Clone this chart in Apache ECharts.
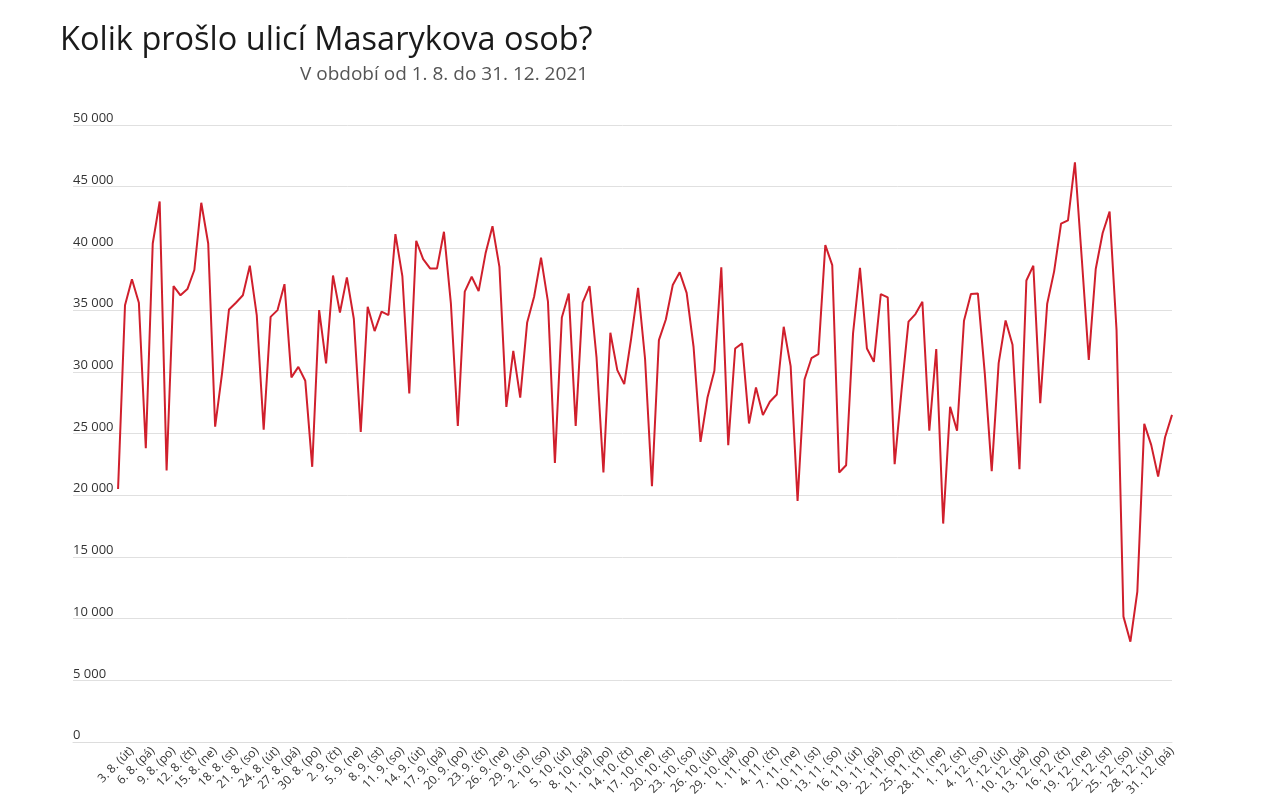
<!DOCTYPE html>
<html>
<head>
<meta charset="utf-8">
<script src="https://cdn.jsdelivr.net/npm/echarts@6/dist/echarts.min.js"></script>
<style>
html, body { margin: 0; padding: 0; background: #fff; }
#chart { width: 1265px; height: 804px; }
</style>
</head>
<body>
<div id="chart"></div>
<script>
// denni pocty chodcu, 1. 8. – 31. 12. 2021
var dny = ['ne', 'po', 'út', 'st', 'čt', 'pá', 'so'];
var osoby = [
  20500, 35400, 37500, 35600, 23800, 40400, 43800, 22000, 36950, 36200,
  36700, 38250, 43700, 40400, 25550, 29900, 35050, 35600, 36200, 38600,
  34600, 25300, 34450, 35000, 37100, 29550, 30400, 29270, 22300, 35000,
  30680, 37800, 34800, 37650, 34300, 25130, 35270, 33300, 34870, 34600,
  41160, 37760, 28240, 40620, 39130, 38380, 38380, 41350, 35540, 25620,
  36500, 37700, 36540, 39600, 41800, 38500, 27160, 31700, 27900, 34000,
  36080, 39250, 35680, 22620, 34400, 36350, 25620, 35600, 36950, 31200,
  21840, 33160, 30140, 29000, 32700, 36800, 31080, 20730, 32570, 34240,
  37030, 38060, 36400, 32030, 24320, 27890, 30080, 38460, 24050, 31890,
  32300, 25810, 28730, 26490, 27570, 28160, 33650, 30460, 19540, 29380,
  31100, 31430, 40270, 38650, 21840, 22430, 33110, 38430, 31890, 30810,
  36300, 36030, 22510, 28510, 34060, 34680, 35680, 25220, 31840, 17700,
  27160, 25220, 34140, 36300, 36350, 29870, 21950, 30700, 34160, 32190,
  22110, 37400, 38600, 27460, 35520, 38140, 42000, 42270, 46980, 39080,
  30970, 38330, 41250, 42980, 33400, 10160, 8130, 12190, 25780, 24080,
  21510, 24700, 26510
];

var dnyPopisky = [];
var d = new Date(2021, 7, 1);
for (var i = 0; i < osoby.length; i++) {
  dnyPopisky.push(d.getDate() + '. ' + (d.getMonth() + 1) + '. (' + dny[d.getDay()] + ')');
  d.setDate(d.getDate() + 1);
}
// popisek kazdy treti den od 3. 8.
var popiskyX = [];
for (var k = 2; k < osoby.length; k += 3) popiskyX.push(k);

var body = osoby.map(function (v, i) { return [i, v]; });

var chart = echarts.init(document.getElementById('chart'));
var option = {
  backgroundColor: '#fff',
  animation: false,
  title: [
    {
      text: 'Kolik prošlo ulicí Masarykova osob?',
      left: 60, top: 24, padding: 0,
      textStyle: { fontFamily: 'Open Sans', fontSize: 32.5, fontWeight: 'normal', color: '#1a1a1a' }
    },
    {
      text: 'V období od 1. 8. do 31. 12. 2021',
      left: 300, top: 65, padding: 0,
      textStyle: { fontFamily: 'Open Sans', fontSize: 19, fontWeight: 'normal', color: '#555' }
    }
  ],
  grid: { left: 73, right: 93, top: 125, bottom: 62, containLabel: false },
  xAxis: {
    type: 'value',
    min: -6.5,
    max: osoby.length - 1,
    splitLine: { show: false },
    axisLine: { show: true, onZero: false, lineStyle: { color: '#ddd' } },
    axisTick: { show: false },
    axisLabel: {
      customValues: popiskyX,
      rotate: 45,
      margin: 7,
      fontFamily: 'Open Sans',
      fontSize: 12,
      color: '#333',
      formatter: function (v) { return dnyPopisky[v] || ''; }
    }
  },
  yAxis: {
    type: 'value',
    min: 0,
    max: 50000,
    interval: 5000,
    axisLine: { show: false },
    axisTick: { show: false },
    splitLine: { lineStyle: { color: '#e0e0e0', width: 1 } },
    axisLabel: {
      inside: true,
      margin: 0,
      align: 'left',
      verticalAlign: 'bottom',
      padding: [0, 0, 0, 0],
      fontFamily: 'Open Sans',
      fontSize: 13,
      color: '#333',
      formatter: function (v) { return String(v).replace(/\B(?=(\d{3})+(?!\d))/g, ' '); }
    }
  },
  series: [
    {
      type: 'line',
      data: body,
      symbol: 'none',
      lineStyle: { color: '#d01f2c', width: 2 }
    }
  ]
};
chart.setOption(option);
</script>
</body>
</html>
